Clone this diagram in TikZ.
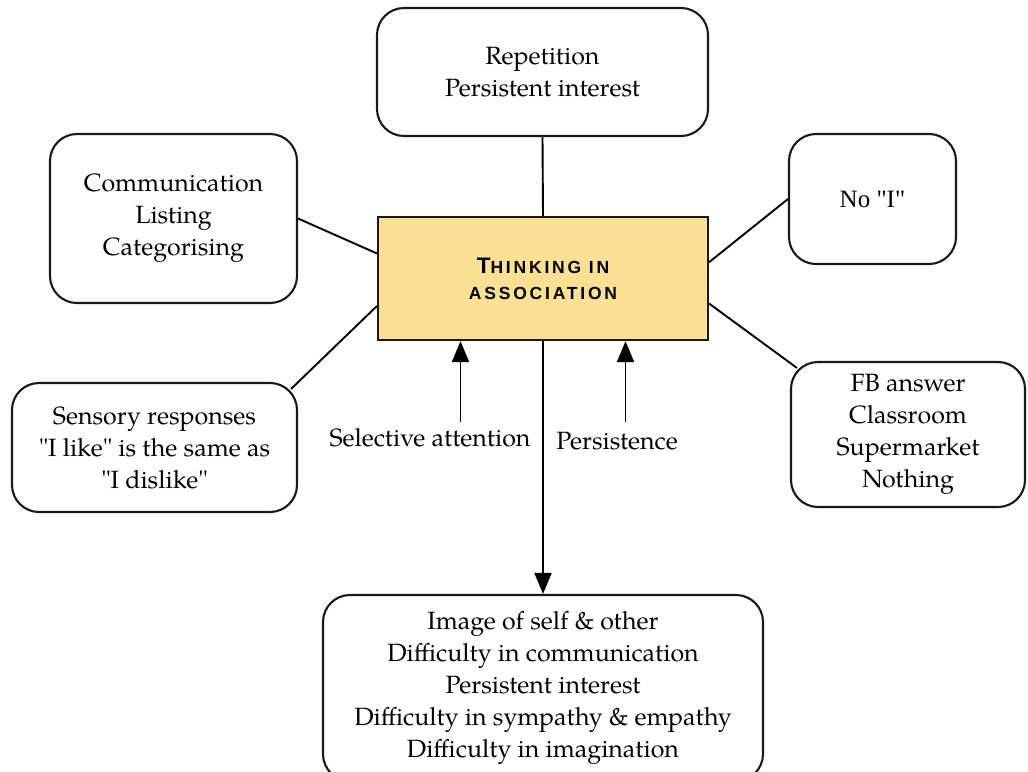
\documentclass[tikz,border=0pt]{standalone}
\usepackage{fontspec}
\setmainfont{texgyrepagella-regular.otf}
\newfontfamily\timesfont{Liberation Serif}
\newfontfamily\capsfont{Liberation Sans Bold}[LetterSpace=16]
\usetikzlibrary{arrows.meta,calc}
\definecolor{core}{RGB}{250,224,146}
\tikzset{
  box/.style={draw=black!90, line width=2.1pt, rounded corners=27pt, fill=white,
    align=center, inner sep=0pt, font=\fontsize{25}{32}\selectfont},
  corebox/.style={draw=black!90, line width=2.2pt, fill=core, align=center,
    minimum width=330pt, minimum height=123pt, inner sep=0pt,
    font=\capsfont\fontsize{17.5}{26}\selectfont},
  link/.style={line width=1.9pt, draw=black},
  push/.style={link, -{Triangle[length=21pt,width=17pt]}},
  tag/.style={inner sep=0pt, font=\fontsize{25}{30}\selectfont}
}
\begin{document}
\begin{tikzpicture}[x=1pt,y=-1pt]
\useasboundingbox (0,0) rectangle (1028,771);
\clip (0,0) rectangle (1028,771);

% central concept
\node[corebox] (c) at (543,278.5)
  {{\fontsize{22.5}{26}\selectfont T}HINKING IN\\ASSOCIATION};

% surrounding boxes
\node[box, minimum width=331pt, minimum height=128pt] (top) at (542.5,72) {Repetition\\Persistent interest};
\node[box, minimum width=247pt, minimum height=169pt] (lt) at (173.5,218.5) {Communication\\Listing\\Categorising};
\node[box, minimum width=167pt, minimum height=130pt, font=\timesfont\fontsize{25}{32}\selectfont] (rt) at (872.5,199) {No \textquotedbl I\textquotedbl};
\node[box, minimum width=285pt, minimum height=129pt] (lb) at (154.5,447.5) {Sensory responses\\\textquotedbl I like\textquotedbl{} is the same as\\\textquotedbl I dislike\textquotedbl};
\node[box, minimum width=234pt, minimum height=145pt] (rb) at (908,434.5) {FB answer\\Classroom\\Supermarket\\Nothing};
\node[box, minimum width=440pt, minimum height=186pt] (bot) at (543,688)
  {Image of self \& other\\Difficulty in communication\\Persistent interest\\Difficulty in sympathy \& empathy\\Difficulty in imagination};

% plain links
\draw[link] (top.south) -- (c.north);
\draw[link] (lt.east) -- ($(c.north west)!0.3!(c.south west)$);
\draw[link] ([shift={(-7pt,-7pt)}]lb.north east) -- ($(c.north west)!0.72!(c.south west)$);
\draw[link] ($(c.north east)!0.37!(c.south east)$) -- (rt.west);
\draw[link] ($(c.north east)!0.70!(c.south east)$) -- ([shift={(7pt,-7pt)}]rb.north west);

% arrows
\draw[push] (c.south) -- (bot.north);
\coordinate (sa) at (460.5,422);
\coordinate (pe) at (625.5,422);
\draw[push] (sa) -- (sa |- c.south);
\draw[push] (pe) -- (pe |- c.south);
\node[tag] (satag) at (430,438) {Selective attention};
\node[tag] (petag) at (617,441) {Persistence};
\end{tikzpicture}
\end{document}
